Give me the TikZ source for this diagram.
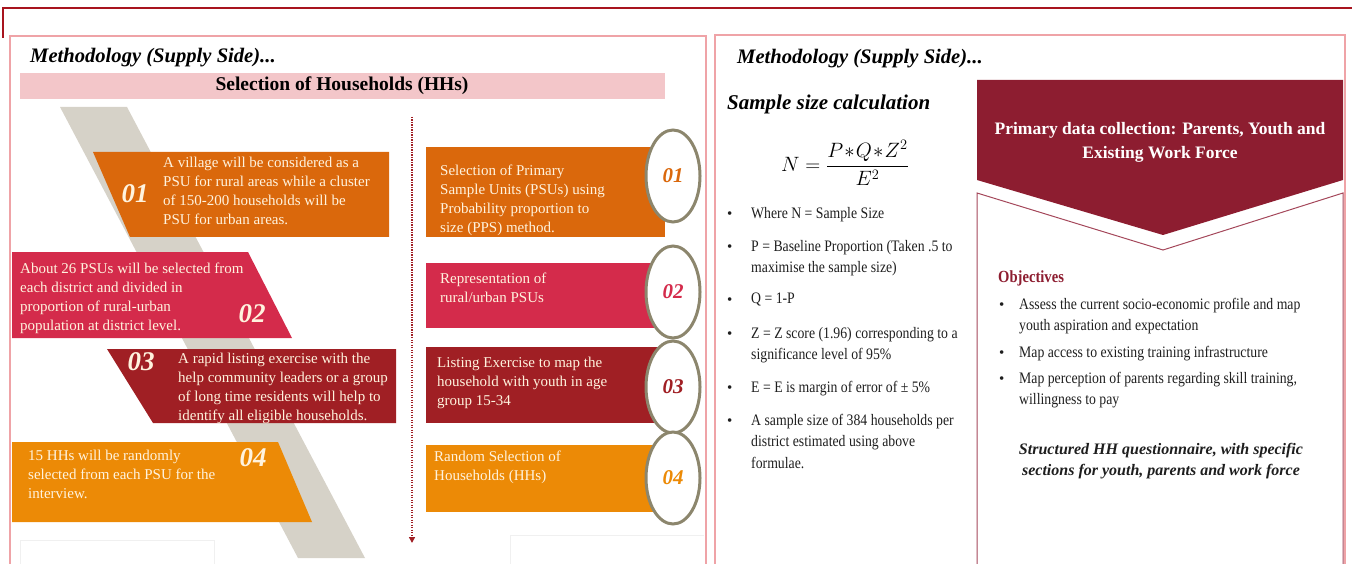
\documentclass[tikz,border=0pt]{standalone}
\usepackage{fontspec}
\setmainfont{Liberation Serif}
\newfontfamily\condserif{Liberation Serif}[FakeStretch=0.86]
\usetikzlibrary{arrows.meta,shapes.geometric}

\definecolor{topred}{HTML}{A8141E}
\definecolor{framepink}{HTML}{EFA3A7}
\definecolor{barpink}{HTML}{F3C6C9}
\definecolor{bandgrey}{HTML}{D6D2C8}
\definecolor{orangeA}{HTML}{DA680C}
\definecolor{crimson}{HTML}{D42B4B}
\definecolor{darkred}{HTML}{A01F24}
\definecolor{amber}{HTML}{EC8A06}
\definecolor{cream}{HTML}{FFF3DE}
\definecolor{ringgrey}{HTML}{8C866D}
\definecolor{wine}{HTML}{8D1D30}
\definecolor{wineline}{HTML}{A4475A}
\definecolor{textgrey}{HTML}{1E1E1E}

\begin{document}
\begin{tikzpicture}[x=1pt,y=-1pt,
  every node/.style={inner sep=0pt},
  heading/.style={anchor=base west,font=\fontsize{20.6}{24}\selectfont\bfseries\itshape},
  boxtext/.style={anchor=north west,align=left,text=cream,
    font=\fontsize{15}{19}\selectfont},
  bignum/.style={font=\fontsize{27}{27}\selectfont\bfseries\itshape,text=cream},
  ring/.style={ellipse,draw=ringgrey,line width=3pt,fill=white,
    minimum width=54pt,minimum height=92pt,
    font=\fontsize{21}{21}\selectfont\bfseries\itshape},
  bodytext/.style={anchor=north west,align=left,text=textgrey,
    font=\condserif\fontsize{16}{21.5}\selectfont},
  bulletmark/.style={anchor=north west,text=textgrey,font=\fontsize{15}{15}\selectfont},
]
\useasboundingbox (0,0) rectangle (1352,564);

% page rule
\draw[topred,line width=1.4pt] (3,38) -- (3,8) -- (1352,8);

% panel frames
\draw[framepink,line width=1.3pt] (10,570) -- (10,36) -- (706,36) -- (706,570);
\draw[framepink,line width=1.3pt] (715,570) -- (715,35) -- (1345,35) -- (1345,570);

% ---------------- left panel ----------------
\node[heading] (hL) at (30,63) {Methodology (Supply Side)...};
\fill[barpink] (20,73) rectangle (665,99);
\node[font=\fontsize{19.5}{22}\selectfont\bfseries] (bar) at (342,86) {Selection of Households (HHs)};

% diagonal band behind the steps
\fill[bandgrey] (60,107) -- (127,107) -- (365,558) -- (298,558) -- cycle;

% step boxes
\fill[orangeA] (93,152) -- (389,152) -- (389,237) -- (130,237) -- cycle;
\fill[crimson] (12,252) -- (248,252) -- (292,338) -- (12,338) -- cycle;
\fill[darkred] (107,349) -- (396,349) -- (396,423) -- (153,423) -- cycle;
\fill[amber]   (12,442) -- (278,442) -- (312,522) -- (12,522) -- cycle;

\node[bignum] (n1) at (135,194) {01};
\node[bignum] (n2) at (252,314) {02};
\node[bignum] (n3) at (141,362) {03};
\node[bignum] (n4) at (253,458) {04};

\node[boxtext] (t1) at (163,157) {A village will be considered as a\\PSU for rural areas while a cluster\\of 150-200 households will  be\\PSU for urban areas.};
\node[boxtext] (t2) at (20,263) {About 26 PSUs will be selected from\\each district and divided in\\proportion of rural-urban\\population at district level.};
\node[boxtext] (t3) at (178,353) {A rapid listing exercise with the\\help community leaders or a group\\of long time residents will help  to\\identify all  eligible households.};
\node[boxtext] (t4) at (28,450) {15 HHs will be  randomly\\selected from each PSU for the\\interview.};

% faint empty placeholders at the foot
\draw[black!6,line width=0.6pt] (20,570) -- (20,540) -- (214,540) -- (214,570);
\draw[black!6,line width=0.6pt] (510,570) -- (510,535) -- (704,535);

% flow arrow
\coordinate (fa) at (412,117);
\coordinate (fb) at (412,543);
\draw[darkred,line width=1.8pt,dash pattern=on 1.4pt off 1.1pt,
  -{Triangle[width=6pt,length=6pt]}] (fa) -- (fb);

% middle column
\fill[orangeA] (426,147) rectangle (665,237);
\fill[crimson] (426,263) rectangle (665,328);
\fill[darkred] (426,347) rectangle (665,423);
\fill[amber]   (426,445) rectangle (665,512);

\node[boxtext] (m1) at (440,165) {Selection of  Primary\\Sample Units (PSUs) using\\Probability proportion to\\size (PPS) method.};
\node[boxtext] (m2) at (440,273) {Representation  of\\rural/urban PSUs};
\node[boxtext] (m3) at (437,357) {Listing Exercise to map the\\household with youth in age\\group 15-34};
\node[boxtext] (m4) at (434,451) {Random Selection of\\Households (HHs)};

\node[ring,text=orangeA] (r1) at (673,176) {01};
\node[ring,text=crimson] (r2) at (673,292) {02};
\node[ring,text=darkred] (r3) at (673,387) {03};
\node[ring,text=amber]   (r4) at (673,478) {04};

% ---------------- right panel ----------------
\node[heading] (hR) at (737,64) {Methodology (Supply Side)...};
\node[anchor=base west,font=\fontsize{21}{25}\selectfont\bfseries\itshape] (ss) at (727,110) {Sample size calculation};

\node[font=\fontsize{21.5}{25}\selectfont] (eq) at (845,163)
  {$\displaystyle N = \frac{P\mkern1mu{\ast}\mkern1mu Q\mkern1mu{\ast}\mkern1mu Z^2}{E^2}$};

\node[bulletmark] (b1) at (727,212) {•};
\node[bodytext] (s1) at (751,207) {Where N = Sample Size};
\node[bulletmark] (b2) at (727,245) {•};
\node[bodytext] (s2) at (751,240) {P = Baseline Proportion (Taken .5 to\\maximise the sample size)};
\node[bulletmark] (b3) at (727,298) {•};
\node[bodytext] (s3) at (751,293) {Q = 1-P};
\node[bulletmark] (b4) at (727,332) {•};
\node[bodytext] (s4) at (751,327) {Z = Z score (1.96) corresponding to a\\significance level of 95\%};
\node[bulletmark] (b5) at (727,386) {•};
\node[bodytext] (s5) at (751,381) {E = E is margin of error of ± 5\%};
\node[bulletmark] (b6) at (727,419) {•};
\node[bodytext] (s6) at (751,414) {A sample size of 384 households per\\district  estimated using above\\formulae.};

% chevron banner and outlined card
\draw[wineline,line width=1pt] (977,570) -- (977,193) -- (1163,250) -- (1343,193) -- (1343,570);
\fill[wine] (977,80) -- (1343,80) -- (1343,180) -- (1163,235) -- (977,180) -- cycle;
\node[align=center,text=white,font=\fontsize{17.5}{24}\selectfont\bfseries] (pd) at (1160,142)
  {Primary data collection: Parents, Youth and\\Existing Work Force};

\node[anchor=north west,text=wine,font=\condserif\fontsize{17}{20}\selectfont\bfseries] (obj) at (998,271) {Objectives};
\node[bulletmark] (o1) at (999,303) {•};
\node[bodytext] (ob1) at (1019,298) {Assess the current socio-economic profile and map\\youth aspiration and expectation};
\node[bulletmark] (o2) at (999,351) {•};
\node[bodytext] (ob2) at (1019,346) {Map access to existing training infrastructure};
\node[bulletmark] (o3) at (999,377) {•};
\node[bodytext] (ob3) at (1019,372) {Map perception of parents regarding skill training,\\willingness to pay};

\node[align=center,text=textgrey,font=\fontsize{16}{21}\selectfont\bfseries\itshape] (sq) at (1161,461)
  {Structured HH questionnaire, with specific\\sections for youth, parents and work force};
\end{tikzpicture}
\end{document}
